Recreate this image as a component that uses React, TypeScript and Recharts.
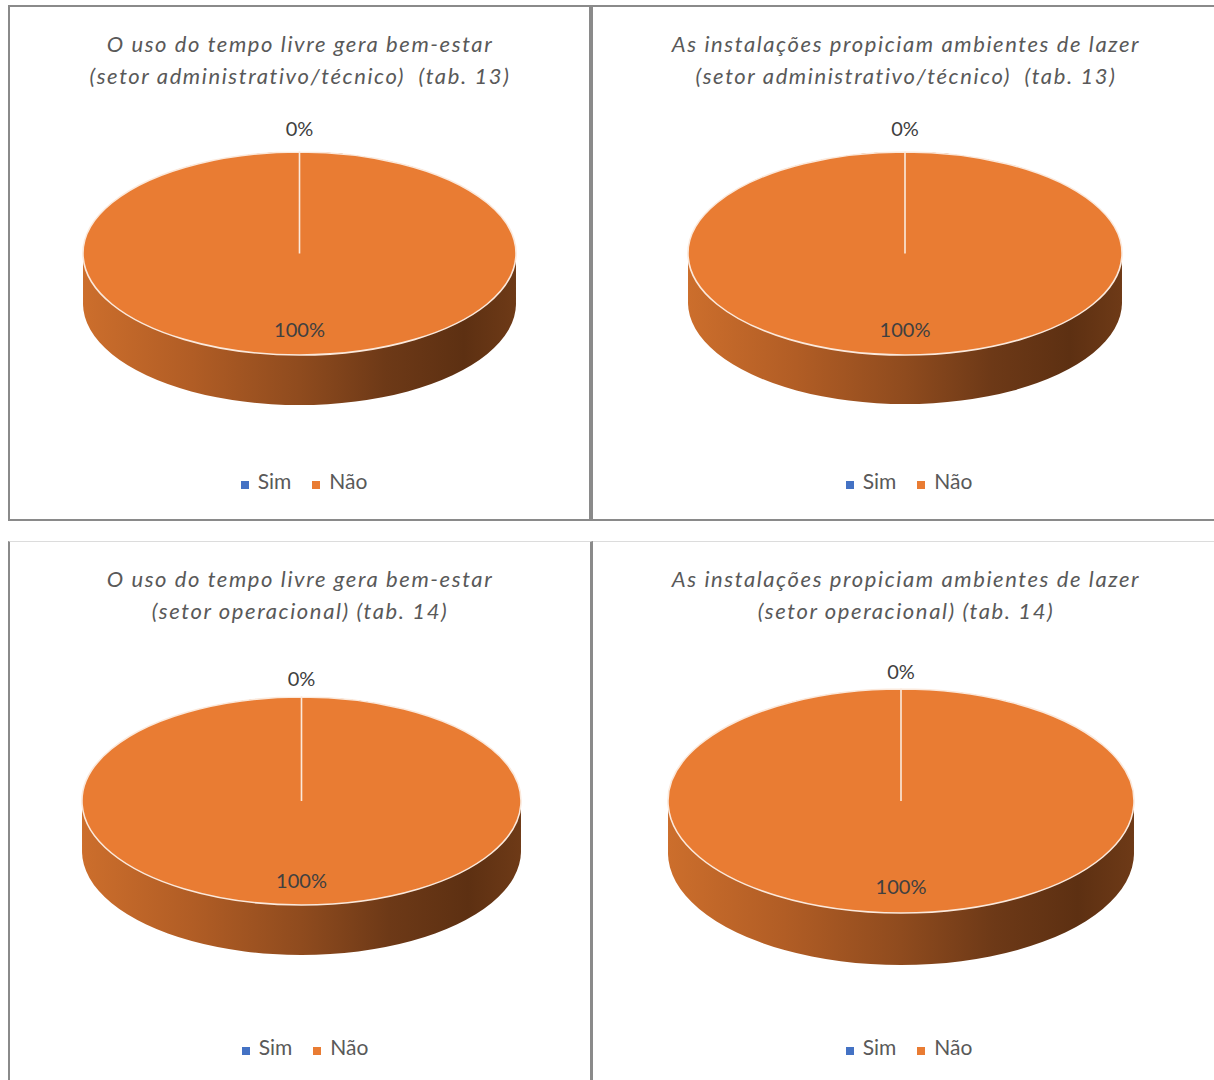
import React from 'react';
import { PieChart, Pie, Cell, Legend } from 'recharts';

// ---------- data ----------
const categories = ['Sim', 'Não'];
const valuesAdminBemEstar = [0, 100];
const valuesAdminLazer = [0, 100];
const valuesOperBemEstar = [0, 100];
const valuesOperLazer = [0, 100];
const titleLine1 = [
  'O uso do tempo livre gera bem-estar',
  'As instalações propiciam ambientes de lazer',
  'O uso do tempo livre gera bem-estar',
  'As instalações propiciam ambientes de lazer',
];
const titleLine2 = [
  '(setor administrativo/técnico)  (tab. 13)',
  '(setor administrativo/técnico)  (tab. 13)',
  '(setor operacional) (tab. 14)',
  '(setor operacional) (tab. 14)',
];

// ---------- styles ----------
const sliceColors = ['#4472C4', '#E97C33'];
const DARK = '#8a8a8a';
const LIGHT = '#dcdcdc';
const STEPS = 10;
const FONT = 'Lato, "Open Sans", sans-serif';

type Panel = {
  id: string;
  values: number[];
  t1: string;
  t2: string;
  box: React.CSSProperties;
  w: number;
  h: number;
  cx: number;
  cy: number;
  rx: number;
  ry: number;
  depth: number;
  outOff: number;
  inOff: number;
  titleCX: number;
  titleY: [number, number];
  legendCX: number;
  legendCY: number;
};

const panels: Panel[] = [
  {
    id: 'a', values: valuesAdminBemEstar, t1: titleLine1[0], t2: titleLine2[0],
    box: { left: 8, top: 5, width: 583, height: 516, borderTop: `2px solid ${DARK}`, borderLeft: `2px solid ${DARK}`, borderRight: `2px solid ${DARK}`, borderBottom: `2px solid ${DARK}` },
    w: 579, h: 512, cx: 289.5, cy: 246.5, rx: 216.5, ry: 101.5, depth: 50, outOff: 24, inOff: 26,
    titleCX: 290, titleY: [37, 69], legendCX: 299, legendCY: 475,
  },
  {
    id: 'b', values: valuesAdminLazer, t1: titleLine1[1], t2: titleLine2[1],
    box: { left: 591, top: 5, width: 640, height: 516, borderTop: `2px solid ${DARK}`, borderLeft: `2px solid ${DARK}`, borderRight: `2px solid ${DARK}`, borderBottom: `2px solid ${DARK}` },
    w: 636, h: 512, cx: 312, cy: 246.5, rx: 217, ry: 101.5, depth: 49, outOff: 24, inOff: 26,
    titleCX: 313, titleY: [37, 69], legendCX: 321, legendCY: 475,
  },
  {
    id: 'c', values: valuesOperBemEstar, t1: titleLine1[2], t2: titleLine2[2],
    box: { left: 8, top: 541, width: 585, height: 560, borderTop: `1px solid ${LIGHT}`, borderLeft: `2px solid ${DARK}`, borderRight: `3px solid ${DARK}` },
    w: 580, h: 559, cx: 291.5, cy: 259, rx: 219.5, ry: 104, depth: 50, outOff: 19, inOff: 25,
    titleCX: 290, titleY: [37, 69], legendCX: 300, legendCY: 506,
  },
  {
    id: 'd', values: valuesOperLazer, t1: titleLine1[3], t2: titleLine2[3],
    box: { left: 593, top: 541, width: 640, height: 560, borderTop: `1px solid ${LIGHT}` },
    w: 640, h: 559, cx: 308, cy: 259, rx: 233, ry: 112, depth: 52, outOff: 18, inOff: 27,
    titleCX: 313, titleY: [37, 69], legendCX: 321, legendCY: 506,
  },
];

function buildCss(p: Panel): string {
  const k = p.ry / p.rx;
  let css = '';
  for (let i = 0; i <= STEPS; i++) {
    const cyI = p.cy + (p.depth * i) / STEPS;
    css += `.side-${p.id}-${i} .recharts-pie-sector{transform-origin:0px ${cyI}px;transform:scaleY(${k});}`;
  }
  css += `.top-${p.id} .recharts-pie-sector{transform-origin:0px ${p.cy}px;transform:scaleY(${k});}`;
  css += `.top-${p.id} .recharts-pie-sector path{vector-effect:non-scaling-stroke;}`;
  return css;
}

const RAD = Math.PI / 180;

function makeLabel(p: Panel) {
  return (props: any) => {
    const { cx, cy, midAngle, percent, index } = props;
    const small = percent < 0.05;
    const d = small ? p.outOff : -p.inOff;
    const x = cx + (p.rx + d) * Math.cos(midAngle * RAD);
    const y = cy - (p.ry + d) * Math.sin(midAngle * RAD);
    return (
      <text key={`lbl-${index}`} x={x} y={y} textAnchor="middle" dominantBaseline="central"
        fill="#404040" fontSize={20} fontFamily={FONT}>
        {`${Math.round(percent * 100)}%`}
      </text>
    );
  };
}

function Pie3D({ p }: { p: Panel }) {
  const data = categories.map((name, i) => ({ name, value: p.values[i] }));
  const sides = [];
  for (let i = STEPS; i >= 0; i--) {
    sides.push(
      <Pie key={`s${i}`} className={`side-${p.id}-${i}`} data={data} dataKey="value" nameKey="name"
        cx={p.cx} cy={p.cy + (p.depth * i) / STEPS} outerRadius={p.rx} startAngle={90} endAngle={-270}
        stroke="none" legendType="none" isAnimationActive={false} label={false} labelLine={false}>
        {data.map((d, j) => <Cell key={j} fill="url(#sideGrad)" stroke="none" />)}
      </Pie>
    );
  }
  return (
    <div style={{ position: 'absolute', boxSizing: 'border-box', ...p.box }}>
      <div style={{ position: 'absolute', left: 0, top: 0 }}>
        <PieChart width={p.w} height={p.h} margin={{ top: 0, right: 0, bottom: 0, left: 0 }}>
          {sides}
          <Pie className={`top-${p.id}`} data={data} dataKey="value" nameKey="name"
            cx={p.cx} cy={p.cy} outerRadius={p.rx} startAngle={90} endAngle={-270}
            stroke="#fbe9dc" strokeWidth={1.6} isAnimationActive={false}
            label={makeLabel(p)} labelLine={false}>
            {data.map((d, j) => <Cell key={j} fill={sliceColors[j]} stroke="#fbe9dc" strokeWidth={1.6} />)}
          </Pie>
          <Legend
            layout="horizontal" align="center" verticalAlign="bottom"
            iconType="square" iconSize={8}
            itemSorter={(item: any) => categories.indexOf(item.value)}
            wrapperStyle={{ left: p.legendCX - 150, width: 300, top: p.legendCY - 14, bottom: 'auto', height: 26, lineHeight: '26px', fontFamily: FONT }}
            formatter={(value: any) => (
              <span style={{ color: '#595959', fontSize: 21, marginLeft: 5, marginRight: value === categories[0] ? 11 : 0 }}>{value}</span>
            )}
          />
        </PieChart>
      </div>
      {[p.t1, p.t2].map((t, i) => (
        <div key={i} style={{
          position: 'absolute', left: p.titleCX - 320, width: 640, top: p.titleY[i] - 14, height: 28,
          lineHeight: '28px', textAlign: 'center', whiteSpace: 'pre', fontStyle: 'italic',
          fontSize: 22, color: '#595959', fontFamily: FONT, letterSpacing: 1.6,
        }}>{t}</div>
      ))}
    </div>
  );
}

export default function App() {
  const css = panels.map(buildCss).join('\n');
  return (
    <div style={{ position: 'absolute', left: 0, top: 0, width: 1214, height: 1080, overflow: 'hidden', background: '#fff', fontFamily: FONT }}>
      <style>{css}</style>
      <svg width={0} height={0} style={{ position: 'absolute' }}>
        <defs>
          <linearGradient id="sideGrad" x1="0" y1="0" x2="1" y2="0">
            <stop offset="0%" stopColor="#cc6e2c" />
            <stop offset="25%" stopColor="#b15d25" />
            <stop offset="50%" stopColor="#8f4b1e" />
            <stop offset="70%" stopColor="#6d3917" />
            <stop offset="88%" stopColor="#5d3012" />
            <stop offset="100%" stopColor="#6e3a17" />
          </linearGradient>
        </defs>
      </svg>
      {panels.map((p) => <Pie3D key={p.id} p={p} />)}
    </div>
  );
}
